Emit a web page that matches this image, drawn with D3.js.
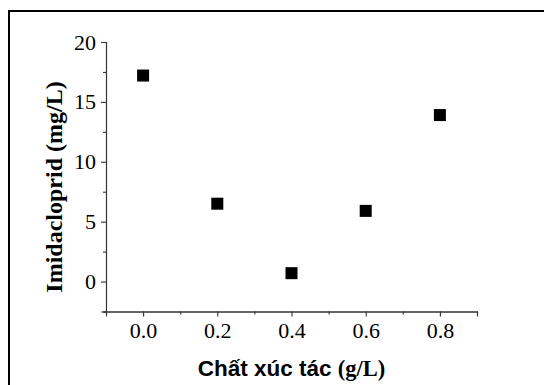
<!DOCTYPE html>
<html>
<head>
<meta charset="utf-8">
<script src="https://cdn.jsdelivr.net/npm/d3@7"></script>
<style>
  html, body { margin: 0; padding: 0; background: #fff; }
  svg { display: block; }
</style>
</head>
<body>
<div id="chart"></div>
<script>
// --- data ---
const catalystDose = [0.0, 0.2, 0.4, 0.6, 0.8];        // g/L
const imidacloprid = [17.2, 6.5, 0.7, 5.9, 13.9];     // mg/L
const xTickValues = [0.0, 0.2, 0.4, 0.6, 0.8];
const xMinorTicks = [-0.1, 0.1, 0.3, 0.5, 0.7, 0.9];
const yTickValues = [0, 5, 10, 15, 20];
const yMinorTicks = [-2.5, 2.5, 7.5, 12.5, 17.5];

const W = 544, H = 385;
const plot = { left: 106, right: 477, top: 42, bottom: 311.5 };

const svg = d3.select("#chart").append("svg")
  .attr("width", W).attr("height", H);

// outer frame (cropped at right / bottom in the original)
svg.append("rect")
  .attr("x", 9).attr("y", 11)
  .attr("width", W + 20).attr("height", H + 20)
  .attr("fill", "none").attr("stroke", "#000").attr("stroke-width", 2);

const x = d3.scaleLinear().domain([-0.1, 0.9]).range([plot.left, plot.right]);
const y = d3.scaleLinear().domain([-2.5, 20]).range([plot.bottom, plot.top]);

const serif = "Liberation Serif";
const sans = "Liberation Sans";

function styleAxis(g) {
  g.selectAll("path.domain").attr("stroke", "#333").attr("stroke-width", 1.1);
  g.selectAll("line").attr("stroke", "#333").attr("stroke-width", 1.1);
  g.selectAll("text").style("font-family", serif).style("font-size", "22px").attr("fill", "#000");
}

// x axis: minor ticks in their own group, major ticks + labels on top
const gxMinor = svg.append("g").attr("transform", `translate(0,${plot.bottom})`)
  .call(d3.axisBottom(x).tickValues(xMinorTicks).tickSize(3).tickFormat(""));
const gx = svg.append("g").attr("transform", `translate(0,${plot.bottom})`)
  .call(d3.axisBottom(x).tickValues(xTickValues).tickSize(5).tickPadding(6)
    .tickFormat(d3.format(".1f")));
styleAxis(gxMinor); styleAxis(gx);

// y axis
const gyMinor = svg.append("g").attr("transform", `translate(${plot.left},0)`)
  .call(d3.axisLeft(y).tickValues(yMinorTicks).tickSize(3).tickFormat(""));
const gy = svg.append("g").attr("transform", `translate(${plot.left},0)`)
  .call(d3.axisLeft(y).tickValues(yTickValues).tickSize(5).tickPadding(5)
    .tickFormat(d3.format("d")));
styleAxis(gyMinor); styleAxis(gy);

// markers
const size = 12;
svg.append("g").selectAll("rect")
  .data(catalystDose.map((d, i) => ({ x: d, y: imidacloprid[i] })))
  .join("rect")
  .attr("x", d => x(d.x) - size / 2)
  .attr("y", d => y(d.y) - size / 2)
  .attr("width", size).attr("height", size)
  .attr("fill", "#000");

// axis titles
const xt = svg.append("text")
  .attr("x", (plot.left + plot.right) / 2).attr("y", 376)
  .attr("text-anchor", "middle").style("font-weight", "bold").attr("fill", "#000");
xt.append("tspan").style("font-family", sans).style("font-size", "22.5px").text("Chất xúc tác ");
xt.append("tspan").style("font-family", serif).style("font-size", "22.5px").text("(g/L)");

svg.append("text")
  .attr("transform", `translate(61.5,187) rotate(-90)`)
  .attr("text-anchor", "middle")
  .style("font-family", serif).style("font-size", "24px").style("font-weight", "bold")
  .attr("fill", "#000")
  .text("Imidacloprid (mg/L)");
</script>
</body>
</html>
